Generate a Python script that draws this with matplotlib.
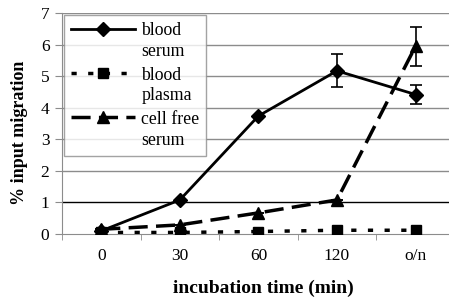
import matplotlib
matplotlib.use("Agg")
import matplotlib.pyplot as plt
from matplotlib.lines import Line2D
from matplotlib.legend_handler import HandlerLine2D
import numpy as np

plt.rcParams['font.family'] = ['Liberation Serif', 'DejaVu Serif']

# data
times = ['0', '30', '60', '120', 'o/n']
blood_serum = [0.1, 1.08, 3.74, 5.17, 4.42]
blood_serum_err = [0, 0, 0, 0.52, 0.31]
blood_plasma = [0.05, 0.05, 0.08, 0.12, 0.12]
cell_free = [0.15, 0.29, 0.67, 1.08, 5.95]
cell_free_err = [0, 0, 0, 0, 0.62]
labels = ['blood\nserum', 'blood\nplasma', 'cell free\nserum']

GRID = '#8c8c8c'
LSPACE = 1.3


class TopLineHandler(HandlerLine2D):
    # put the legend sample next to the first text line, not the middle
    def create_artists(self, legend, orig_handle, xdescent, ydescent,
                       width, height, fontsize, trans):
        arts = super().create_artists(legend, orig_handle, xdescent, ydescent,
                                      width, height, fontsize, trans)
        for a in arts:
            a.set_ydata(np.asarray(a.get_ydata()) + 0.55 * LSPACE * fontsize)
        return arts


x = np.arange(len(times))

fig = plt.figure(figsize=(4.49, 2.97), dpi=100)
ax = fig.add_axes([0.138, 0.212, 0.875, 0.744])

for yv in range(1, 8):
    ax.axhline(yv, color='black' if yv == 1 else GRID, lw=1.0, zorder=0)

serum_style = dict(color='black', lw=2.0, marker='D', ms=7)
plasma_style = dict(color='black', lw=2.5, ls=(0, (1.5, 3.3)), marker='s', ms=6.5)
free_style = dict(color='black', lw=2.5, ls=(0, (5.5, 2.4)), marker='^', ms=8)

ax.errorbar(x, blood_serum, yerr=blood_serum_err, elinewidth=1.2, capsize=4.5,
            capthick=1.2, zorder=3, **serum_style)
ax.plot(x, blood_plasma, zorder=3, **plasma_style)
ax.errorbar(x, cell_free, yerr=cell_free_err, elinewidth=1.2, capsize=4.5,
            capthick=1.2, zorder=3, **free_style)

ax.set_xlim(-0.5, 4.5)
ax.set_ylim(0, 7)
ax.set_yticks(range(0, 8))
ax.set_xticks(x)
ax.set_xticklabels(times)
ax.set_xticks(np.arange(-0.5, 5, 1), minor=True)
ax.tick_params(axis='x', which='major', length=0, labelsize=12.5, pad=10)
ax.tick_params(axis='x', which='minor', length=4, color=GRID, direction='out')
ax.tick_params(axis='y', length=5, color=GRID, labelsize=12.5, pad=4)

for s in ['top', 'right']:
    ax.spines[s].set_visible(False)
ax.spines['left'].set_color(GRID)
ax.spines['bottom'].set_color(GRID)

ax.set_xlabel('incubation time (min)', fontsize=14, fontweight='bold')
ax.set_ylabel('% input migration', fontsize=13, fontweight='bold')
ax.xaxis.set_label_coords(0.513, -0.205)
ax.yaxis.set_label_coords(-0.087, 0.46)

handles = [Line2D([], [], **serum_style), Line2D([], [], **plasma_style),
           Line2D([], [], **free_style)]
leg = ax.legend(handles, labels, loc='upper left',
                bbox_to_anchor=(0.005, 0.99), fontsize=12.8,
                frameon=True, fancybox=False, edgecolor=GRID,
                handlelength=3.6, borderaxespad=0, labelspacing=0.35,
                handletextpad=0.35, borderpad=0.4,
                handler_map={Line2D: TopLineHandler()})
leg.get_frame().set_linewidth(1.0)
for t in leg.get_texts():
    t.set_linespacing(LSPACE)

fig.savefig('out.png', dpi=100)
